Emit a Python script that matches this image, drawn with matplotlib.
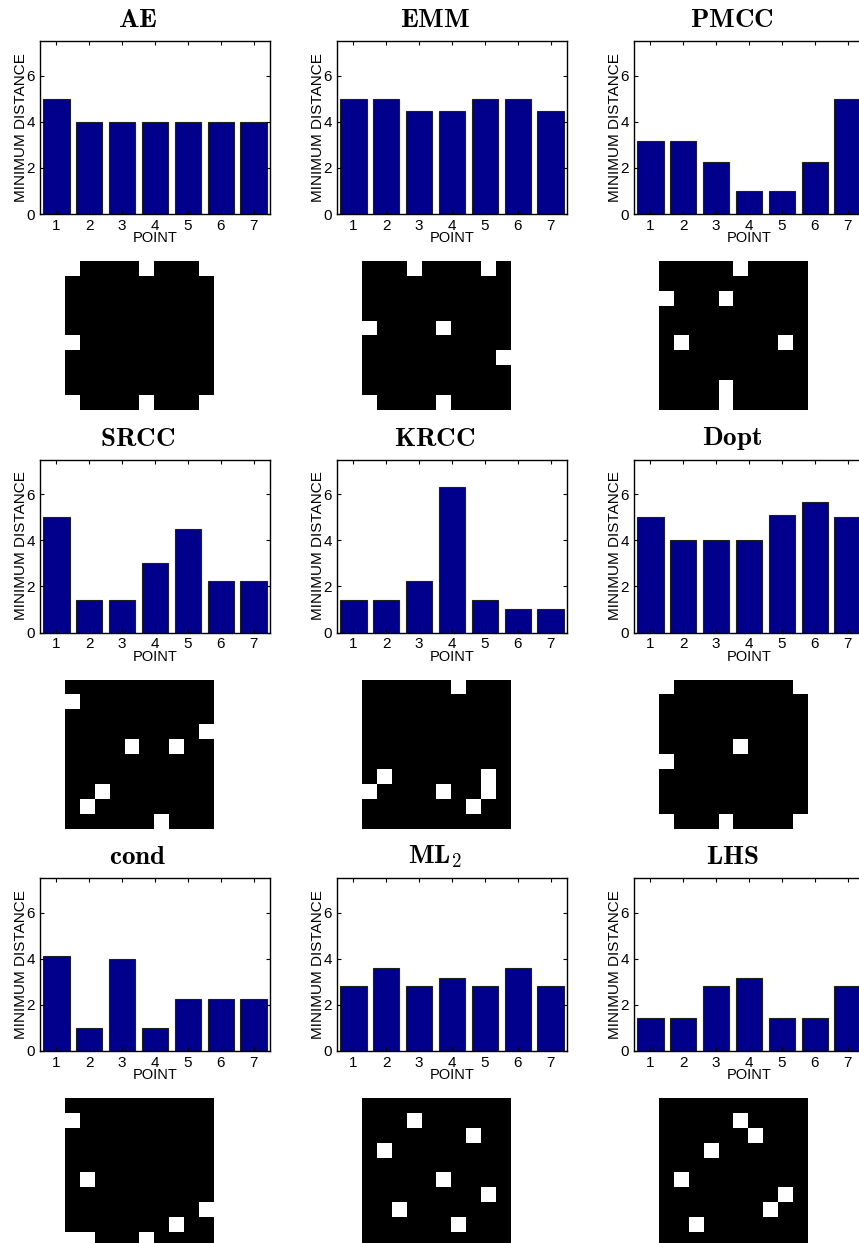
import numpy as np
import matplotlib
matplotlib.use("Agg")
import matplotlib.pyplot as plt

plt.rcParams['font.family'] = ['Liberation Sans', 'DejaVu Sans']
plt.rcParams['mathtext.fontset'] = 'cm'

# ---- data ----
titles = [r'$\mathbf{AE}$', r'$\mathbf{EMM}$', r'$\mathbf{PMCC}$',
          r'$\mathbf{SRCC}$', r'$\mathbf{KRCC}$', r'$\mathbf{Dopt}$',
          r'$\mathbf{cond}$', r'$\mathbf{ML}_2$', r'$\mathbf{LHS}$']
points = [1, 2, 3, 4, 5, 6, 7]

ae_dist = [5.0, 4.0, 4.0, 4.0, 4.0, 4.0, 4.0]
emm_dist = [5.0, 5.0, 4.47, 4.47, 5.0, 5.0, 4.47]
pmcc_dist = [3.16, 3.16, 2.24, 1.0, 1.0, 2.24, 5.0]
srcc_dist = [5.0, 1.41, 1.41, 3.0, 4.47, 2.24, 2.24]
krcc_dist = [1.41, 1.41, 2.24, 6.32, 1.41, 1.0, 1.0]
dopt_dist = [5.0, 4.0, 4.0, 4.0, 5.1, 5.66, 5.0]
cond_dist = [4.12, 1.0, 4.0, 1.0, 2.24, 2.24, 2.24]
ml2_dist = [2.83, 3.61, 2.83, 3.16, 2.83, 3.61, 2.83]
lhs_dist = [1.41, 1.41, 2.83, 3.16, 1.41, 1.41, 2.83]

# white cells (row, col) of each 10x10 design grid
ae_cells = [(0, 0), (0, 5), (0, 9), (5, 0), (9, 0), (9, 5), (9, 9)]
emm_cells = [(0, 3), (0, 8), (4, 0), (4, 5), (6, 9), (9, 0), (9, 5)]
pmcc_cells = [(0, 5), (2, 0), (2, 4), (5, 1), (5, 8), (8, 4), (9, 4)]
srcc_cells = [(1, 0), (3, 9), (4, 4), (4, 7), (7, 2), (8, 1), (9, 6)]
krcc_cells = [(0, 6), (6, 1), (6, 8), (7, 0), (7, 5), (7, 8), (8, 7)]
dopt_cells = [(0, 0), (0, 9), (4, 5), (5, 0), (9, 0), (9, 4), (9, 9)]
cond_cells = [(1, 0), (5, 1), (7, 9), (8, 7), (9, 0), (9, 1), (9, 5)]
ml2_cells = [(1, 3), (2, 7), (3, 1), (5, 5), (6, 8), (7, 2), (8, 6)]
lhs_cells = [(1, 5), (2, 6), (3, 3), (5, 1), (6, 8), (7, 7), (8, 2)]

dists = [ae_dist, emm_dist, pmcc_dist, srcc_dist, krcc_dist, dopt_dist,
         cond_dist, ml2_dist, lhs_dist]
cells = [ae_cells, emm_cells, pmcc_cells, srcc_cells, krcc_cells, dopt_cells,
         cond_cells, ml2_cells, lhs_cells]

# ---- layout (pixels) ----
W, H = 859, 1243
fig = plt.figure(figsize=(W / 100, H / 100), dpi=100)

col_left = [40, 337, 634]
row_top = [41, 459.5, 878]
ax_w, ax_h = 230, 173
grid_dx, grid_dy, grid_size = 25, 220, 149

bar_color = '#00008C'
fs = 10.5

for i in range(9):
    r, c = divmod(i, 3)
    left = col_left[c]
    top = row_top[r]
    ax = fig.add_axes([left / W, 1 - (top + ax_h) / H, ax_w / W, ax_h / H])
    ax.bar(points, dists[i], width=0.8, color=bar_color, edgecolor='#202020',
           linewidth=0.8)
    ax.set_xlim(0.5, 7.5)
    ax.set_ylim(0, 7.5)
    ax.set_xticks(points)
    ax.set_yticks([0, 2, 4, 6])
    ax.tick_params(direction='in', top=True, right=True, length=3,
                   width=0.8, labelsize=fs + 0.5, pad=3.5)
    for s in ax.spines.values():
        s.set_linewidth(1.0)
    ax.set_xlabel('POINT', fontsize=fs, labelpad=-1)
    ax.set_ylabel('MINIMUM DISTANCE', fontsize=fs + 0.5, labelpad=-1)
    fig.text((left + 98) / W, 1 - (top - 21) / H, titles[i], fontsize=19.5,
             ha='center', va='center')

    grid = np.zeros((10, 10))
    for (rr, cc) in cells[i]:
        grid[rr, cc] = 1
    gx = left + grid_dx
    gy = top + grid_dy
    gax = fig.add_axes([gx / W, 1 - (gy + grid_size) / H,
                        grid_size / W, grid_size / H])
    gax.imshow(grid, cmap='gray', vmin=0, vmax=1, interpolation='nearest',
               aspect='auto')
    gax.axis('off')

fig.savefig('out.png', dpi=100)
